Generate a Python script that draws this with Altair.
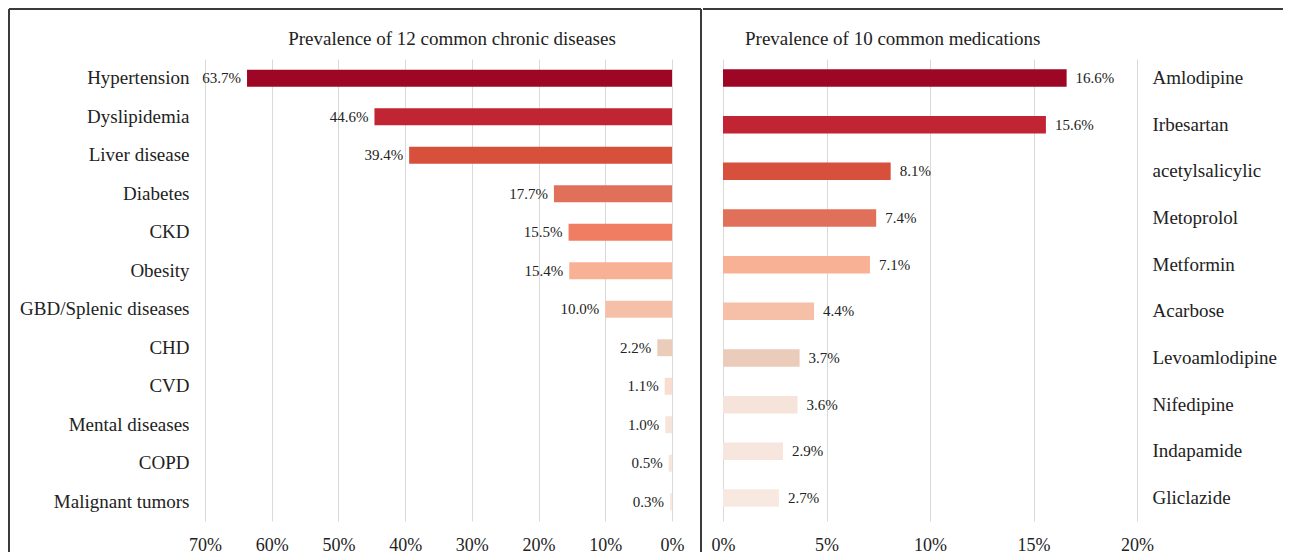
import altair as alt
import pandas as pd

# ---- data ----
diseases = ["Hypertension", "Dyslipidemia", "Liver disease", "Diabetes", "CKD", "Obesity",
            "GBD/Splenic diseases", "CHD", "CVD", "Mental diseases", "COPD", "Malignant tumors"]
disease_prev = [63.7, 44.6, 39.4, 17.7, 15.5, 15.4, 10.0, 2.2, 1.1, 1.0, 0.5, 0.3]

meds = ["Amlodipine", "Irbesartan", "acetylsalicylic", "Metoprolol", "Metformin", "Acarbose",
        "Levoamlodipine", "Nifedipine", "Indapamide", "Gliclazide"]
med_prev = [16.6, 15.6, 8.1, 7.4, 7.1, 4.4, 3.7, 3.6, 2.9, 2.7]

left_ticks = [0, 10, 20, 30, 40, 50, 60, 70]
right_ticks = [0, 5, 10, 15, 20]
left_title = "Prevalence of 12 common chronic diseases"
right_title = "Prevalence of 10 common medications"

# ---- styles ----
disease_colors = ["#9E0626", "#C12533", "#D6503B", "#E07059", "#F07D62", "#F9B195",
                  "#F6C0A8", "#EBCCBB", "#F9DDD0", "#F6E3D9", "#F6E6DD", "#F7E8E0"]
med_colors = ["#9E0626", "#C12533", "#D6503B", "#E07059", "#F9B195", "#F6C0A8",
              "#EBCCBB", "#F6E3D9", "#F6E6DD", "#F7E8E0"]

FONT = "Liberation Serif"
TXT = "#222222"
BORDER = "#3a3a3a"
GRID = "#D9D9D9"

df_d = pd.DataFrame({"name": diseases, "prev": disease_prev})
df_m = pd.DataFrame({"name": meds, "prev": med_prev})
one = pd.DataFrame({"k": [0]})

LW, LH = 467, 462
RW, RH = 414, 462

# ---------- left panel ----------
ld = alt.Chart(df_d).transform_calculate(label="format(datum.prev, '.1f') + '%'")
y_left = alt.Y("name:N", sort=diseases, title=None,
               scale=alt.Scale(paddingInner=0.56, paddingOuter=0.28),
               axis=alt.Axis(domain=False, ticks=False, grid=False, labelFont=FONT,
                             labelFontSize=19, labelColor=TXT, labelPadding=16))
x_left = alt.X("prev:Q", title=None,
               scale=alt.Scale(domain=[0, 70], reverse=True, nice=False),
               axis=alt.Axis(values=left_ticks, labelExpr="datum.value + '%'", domain=False,
                             ticks=False, grid=True, gridColor=GRID, labelFont=FONT,
                             labelFontSize=18, labelColor=TXT, labelPadding=15,
                             labelFlush=False, labelOverlap=False))
l_bars = ld.mark_bar().encode(
    x=x_left, y=y_left,
    color=alt.Color("name:N", scale=alt.Scale(domain=diseases, range=disease_colors), legend=None))
l_text = ld.mark_text(align="right", baseline="middle", dx=-6, font=FONT, fontSize=15, color=TXT).encode(
    x="prev:Q", y=alt.Y("name:N", sort=diseases), text="label:N")
l_title = alt.Chart(one).mark_text(align="center", baseline="middle", font=FONT, fontSize=19, color=TXT).encode(
    x=alt.value(247), y=alt.value(-20), text=alt.value(left_title))
l_top = alt.Chart(one).mark_rule(color=BORDER, strokeWidth=2).encode(
    x=alt.value(-196), x2=alt.value(496), y=alt.value(-50))
l_left = alt.Chart(one).mark_rule(color=BORDER, strokeWidth=2).encode(
    x=alt.value(-196), y=alt.value(-50), y2=alt.value(493))
l_sep = alt.Chart(one).mark_rule(color=BORDER, strokeWidth=2).encode(
    x=alt.value(496), y=alt.value(-50), y2=alt.value(493))

left = alt.layer(l_bars, l_text, l_title, l_top, l_left, l_sep).properties(width=LW, height=LH)

# ---------- right panel ----------
rd = alt.Chart(df_m).transform_calculate(label="format(datum.prev, '.1f') + '%'")
y_right = alt.Y("name:N", sort=meds, title=None,
                scale=alt.Scale(paddingInner=0.625, paddingOuter=0.2625, align=0.42),
                axis=alt.Axis(orient="right", domain=False, ticks=False, grid=False, labelFont=FONT,
                              labelFontSize=19, labelColor=TXT, labelPadding=15, labelAlign="left"))
x_right = alt.X("prev:Q", title=None,
                scale=alt.Scale(domain=[0, 20], nice=False),
                axis=alt.Axis(values=right_ticks, labelExpr="datum.value + '%'", domain=False,
                              ticks=False, grid=True, gridColor=GRID, labelFont=FONT,
                              labelFontSize=18, labelColor=TXT, labelPadding=15,
                              labelFlush=False, labelOverlap=False))
r_bars = rd.mark_bar().encode(
    x=x_right, y=y_right,
    color=alt.Color("name:N", scale=alt.Scale(domain=meds, range=med_colors), legend=None))
r_text = rd.mark_text(align="left", baseline="middle", dx=9, font=FONT, fontSize=15, color=TXT).encode(
    x="prev:Q", y=alt.Y("name:N", sort=meds), text="label:N")
r_title = alt.Chart(one).mark_text(align="left", baseline="middle", font=FONT, fontSize=19, color=TXT).encode(
    x=alt.value(22), y=alt.value(-20), text=alt.value(right_title))
r_top = alt.Chart(one).mark_rule(color=BORDER, strokeWidth=2).encode(
    x=alt.value(-20), x2=alt.value(560), y=alt.value(-50))

right = alt.layer(r_bars, r_text, r_title, r_top).properties(width=RW, height=RH)

chart = alt.hconcat(left, right, spacing=0).resolve_scale(
    x="independent", y="independent", color="independent"
).properties(padding=0).configure_view(stroke=None)

chart.save("out.html", embed_options={"renderer": "svg", "actions": False})
